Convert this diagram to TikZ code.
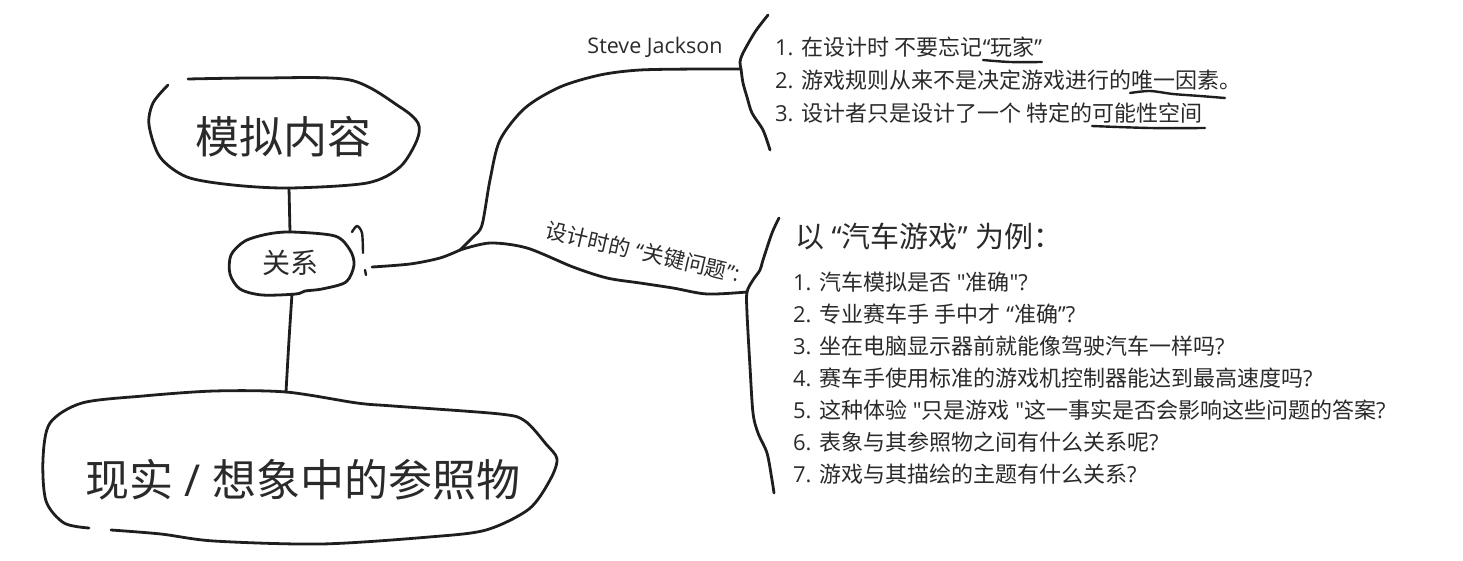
\documentclass[tikz,border=0pt]{standalone}
\usepackage{fontspec}
\newfontfamily\latinf{Open Sans}
\newfontfamily\cjkf{Noto Sans CJK SC}
\XeTeXinterchartokenstate=1
\newXeTeXintercharclass\cjkcls
\newcount\cjkcc
\cjkcc="3000 \loop \XeTeXcharclass\cjkcc=\cjkcls \advance\cjkcc by 1 \ifnum\cjkcc<"3040 \repeat
\cjkcc="4E00 \loop \XeTeXcharclass\cjkcc=\cjkcls \advance\cjkcc by 1 \ifnum\cjkcc<"A000 \repeat
\cjkcc="FF00 \loop \XeTeXcharclass\cjkcc=\cjkcls \advance\cjkcc by 1 \ifnum\cjkcc<"FFF0 \repeat
\XeTeXinterchartoks 0 \cjkcls = {\begingroup\cjkf}
\XeTeXinterchartoks 4095 \cjkcls = {\begingroup\cjkf}
\XeTeXinterchartoks \cjkcls 0 = {\endgroup}
\XeTeXinterchartoks \cjkcls 4095 = {\endgroup}
\newcommand\myfs[2]{\latinf\fontsize{#1}{#2}\selectfont}
\definecolor{ink}{HTML}{1E1E1E}
\definecolor{txt}{HTML}{2A2A2A}
\begin{document}
\begin{tikzpicture}[x=1pt,y=-1pt,
  sk/.style={draw=ink,line width=2.8pt,line cap=round,line join=round},
  tx/.style={inner sep=0pt,outer sep=0pt,text=txt}]
\useasboundingbox (0,0) rectangle (1463,560);

% text nodes
\node[tx,font=\myfs{44}{50}] (sim) at (283,137) {模拟内容};
\node[tx,font=\myfs{28}{32}] (rel) at (290,263) {关系};
\node[tx,font=\myfs{44}{50}] (ref) at (303,480) {现实 / 想象中的参照物};
\node[tx,font=\myfs{21.5}{24}] (sj) at (655,47) {Steve Jackson};
\node[tx,anchor=west,align=left,font=\myfs{22}{33}] (ul) at (775,80)
  {1. 在设计时 不要忘记“玩家”\\2. 游戏规则从来不是决定游戏进行的唯一因素。\\3. 设计者只是设计了一个 特定的可能性空间};
\node[tx,rotate=-13,font=\myfs{21.5}{24}] (lab) at (643,252) {设计时的 “关键问题”:};
\node[tx,anchor=west,font=\myfs{29}{34}] (hd) at (795,236) {以 “汽车游戏” 为例：};
\node[tx,anchor=west,align=left,font=\myfs{22}{32}] (ll) at (793,378)
  {1. 汽车模拟是否 "准确"?\\2. 专业赛车手 手中才 “准确”?\\3. 坐在电脑显示器前就能像驾驶汽车一样吗?\\4. 赛车手使用标准的游戏机控制器能达到最高速度吗?\\5. 这种体验 "只是游戏 "这一事实是否会影响这些问题的答案?\\6. 表象与其参照物之间有什么关系呢?\\7. 游戏与其描绘的主题有什么关系?};

% outlines
\draw[sk] plot[smooth] coordinates {(188,79) (260,78) (350,80) (400,107) (418,123) (417,140) (400,167) (367,183) (290,188) (233,185) (187,177) (160,157) (149,125) (153,103) (168,85)};
\draw[sk] plot[smooth cycle] coordinates {(292,232) (335,236) (350,250) (354,265) (346,282) (322,289) (305,291) (296,294) (262,295) (240,289) (230,274) (231,255) (245,241) (268,234)};
\draw[sk] plot[smooth] coordinates {(111,530) (161,534) (214,541) (321,544) (429,537) (486,530) (529,509) (550,480) (557,459) (546,444) (525,421) (500,414) (393,406) (357,403) (286,392) (214,391) (143,396) (82,403) (50,423) (43,459) (46,501) (64,523) (89,528)};

% connection points
\coordinate (simS) at (289,188);
\coordinate (relN) at (290,232);
\coordinate (relS) at (292,294);
\coordinate (refN) at (286,392);
\coordinate (relE) at (372,267);
\coordinate (jn) at (460,250);
\coordinate (ubr) at (741,69);
\coordinate (lbr) at (747,292);

% connectors
\draw[sk] (simS) -- (relN);
\draw[sk] plot[smooth] coordinates {(relS) (289,340) (refN)};
\draw[sk] plot[smooth] coordinates {(relE) (410,264) (440,258) (jn)};
\draw[sk] plot[smooth] coordinates {(jn) (473,237) (482,225) (490,180) (500,140) (525,108) (560,87) (600,75) (640,70) (700,69) (ubr)};
\draw[sk] plot[smooth] coordinates {(jn) (490,243) (527,248) (573,267) (607,278) (640,283) (673,288) (707,294) (lbr)};

% braces
\draw[sk] plot[smooth] coordinates {(768,15) (755,32) (743,53) (740,62) (ubr) (743,83) (747,97) (752,113) (763,130) (770,150)};
\draw[sk] plot[smooth] coordinates {(779,218) (772,233) (763,260) (760,270) (753,280) (lbr) (747,313) (750,367) (753,413) (758,433) (767,453) (772,480) (774,493)};

% question mark
\draw[sk,line width=2.4pt] plot[smooth] coordinates {(352,232) (357,226) (362,233) (363,253)};
\draw[sk,line width=2.4pt] (365,270) -- (366,275);

% underlines
\draw[sk,line width=2.4pt] plot[smooth] coordinates {(983,60) (1010,62) (1042,62)};
\draw[sk,line width=2.4pt] plot[smooth] coordinates {(1130,93) (1150,91) (1173,94) (1200,96) (1225,98)};
\draw[sk,line width=2.4pt] plot[smooth] coordinates {(1092,126) (1150,128) (1205,128)};
\end{tikzpicture}
\end{document}
